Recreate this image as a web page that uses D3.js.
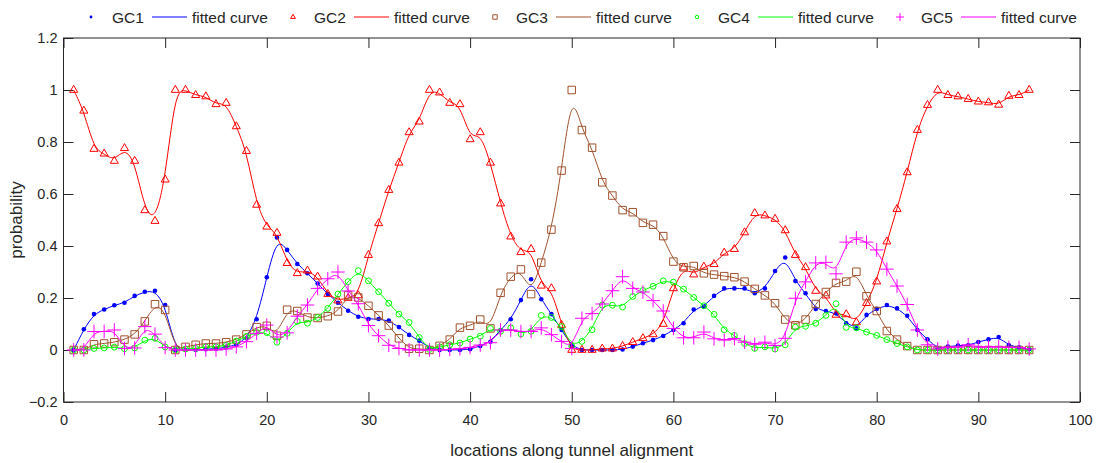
<!DOCTYPE html>
<html>
<head>
<meta charset="utf-8">
<script src="https://cdn.jsdelivr.net/npm/d3@7"></script>
<style>
  body { margin: 0; background: #fff; }
  text { font-family: "Liberation Sans", Arial, sans-serif; fill: #262626; }
</style>
</head>
<body>
<svg id="chart" width="1097" height="463"></svg>
<script>
// locations 1..95 along the tunnel
const locations = d3.range(1, 96);

const gc1 = [0.0, 0.08, 0.138, 0.156, 0.172, 0.182, 0.208, 0.224, 0.228, 0.173,
  0.0, 0.0, 0.0, 0.003, 0.005, 0.01, 0.02, 0.045, 0.118, 0.28,
  0.433, 0.385, 0.331, 0.295, 0.256, 0.215, 0.182, 0.151, 0.128, 0.119,
  0.119, 0.113, 0.088, 0.058, 0.036, 0.008, 0.0, 0.0, 0.0, 0.003,
  0.015, 0.032, 0.077, 0.118, 0.192, 0.272, 0.195, 0.138, 0.077, 0.015,
  0.0, 0.0, 0.0, 0.0, 0.002, 0.013, 0.026, 0.038, 0.054, 0.077,
  0.103, 0.156, 0.167, 0.208, 0.237, 0.237, 0.237, 0.218, 0.237, 0.304,
  0.356, 0.265, 0.218, 0.158, 0.15, 0.141, 0.103, 0.083, 0.135, 0.158,
  0.173, 0.16, 0.132, 0.077, 0.041, 0.005, 0.013, 0.017, 0.018, 0.031,
  0.041, 0.05, 0.018, 0.01, 0.003];

const gc2 = [1.0, 0.92, 0.773, 0.755, 0.727, 0.776, 0.727, 0.537, 0.496, 0.655,
  1.0, 1.0, 0.98, 0.975, 0.945, 0.95, 0.86, 0.765, 0.558, 0.474,
  0.45, 0.334, 0.295, 0.305, 0.282, 0.215, 0.19, 0.2, 0.21, 0.365,
  0.487, 0.615, 0.72, 0.837, 0.878, 1.0, 0.99, 0.95, 0.945, 0.81,
  0.837, 0.72, 0.563, 0.436, 0.376, 0.388, 0.247, 0.237, 0.096, 0.0,
  0.0, 0.0, 0.005, 0.005, 0.015, 0.03, 0.045, 0.06, 0.1, 0.237,
  0.317, 0.29, 0.32, 0.33, 0.374, 0.388, 0.452, 0.526, 0.517, 0.504,
  0.46, 0.365, 0.318, 0.227, 0.209, 0.135, 0.137, 0.106, 0.18, 0.263,
  0.417, 0.542, 0.683, 0.846, 0.942, 1.0, 0.98, 0.975, 0.965, 0.955,
  0.952, 0.943, 0.977, 0.98, 1.0];

const gc3 = [0.0, 0.0, 0.022, 0.025, 0.03, 0.04, 0.06, 0.11, 0.176, 0.154,
  0.0, 0.012, 0.02, 0.025, 0.025, 0.03, 0.04, 0.06, 0.088, 0.093,
  0.055, 0.155, 0.15, 0.125, 0.123, 0.13, 0.148, 0.21, 0.202, 0.17,
  0.133, 0.094, 0.045, 0.005, 0.005, 0.0, 0.016, 0.04, 0.086, 0.093,
  0.117, 0.083, 0.22, 0.282, 0.31, 0.215, 0.336, 0.463, 0.69, 1.0,
  0.846, 0.778, 0.645, 0.594, 0.538, 0.53, 0.489, 0.482, 0.438, 0.34,
  0.318, 0.323, 0.295, 0.29, 0.284, 0.28, 0.263, 0.235, 0.21, 0.18,
  0.117, 0.095, 0.117, 0.177, 0.223, 0.258, 0.263, 0.301, 0.207, 0.15,
  0.073, 0.04, 0.015, 0.0, 0.0, 0.0, 0.0, 0.0, 0.0, 0.0,
  0.0, 0.0, 0.0, 0.0, 0.0];

const gc4 = [0.0, 0.0, 0.006, 0.008, 0.011, 0.005, 0.008, 0.038, 0.045, 0.012,
  0.0, 0.004, 0.006, 0.012, 0.012, 0.018, 0.034, 0.052, 0.068, 0.067,
  0.03, 0.064, 0.11, 0.103, 0.125, 0.16, 0.215, 0.263, 0.305, 0.266,
  0.224, 0.18, 0.138, 0.106, 0.048, 0.002, 0.012, 0.02, 0.027, 0.042,
  0.053, 0.083, 0.072, 0.085, 0.062, 0.072, 0.133, 0.125, 0.09, 0.015,
  0.033, 0.078, 0.173, 0.172, 0.165, 0.206, 0.229, 0.245, 0.266, 0.261,
  0.234, 0.202, 0.17, 0.137, 0.078, 0.056, 0.025, 0.006, 0.012, 0.004,
  0.02, 0.088, 0.091, 0.103, 0.133, 0.178, 0.087, 0.085, 0.069, 0.056,
  0.04, 0.025, 0.012, 0.0, 0.0, 0.0, 0.0, 0.0, 0.0, 0.0,
  0.0, 0.0, 0.0, 0.0, 0.0];

const gc5 = [0.0, 0.0, 0.071, 0.071, 0.077, 0.006, 0.008, 0.09, 0.061, 0.009,
  0.0, 0.0, 0.0, 0.0, 0.0, 0.004, 0.012, 0.032, 0.064, 0.096,
  0.05, 0.066, 0.13, 0.173, 0.237, 0.274, 0.3, 0.227, 0.178, 0.094,
  0.055, 0.018, 0.006, 0.0, 0.0, 0.0, 0.0, 0.002, 0.005, 0.01,
  0.019, 0.028, 0.077, 0.077, 0.071, 0.071, 0.085, 0.059, 0.033, 0.006,
  0.122, 0.14, 0.177, 0.228, 0.282, 0.237, 0.223, 0.19, 0.15, 0.083,
  0.047, 0.047, 0.069, 0.043, 0.038, 0.044, 0.03, 0.022, 0.03, 0.017,
  0.045, 0.199, 0.262, 0.335, 0.337, 0.293, 0.415, 0.431, 0.415, 0.385,
  0.311, 0.246, 0.175, 0.077, 0.02, 0.004, 0.011, 0.011, 0.02, 0.011,
  0.012, 0.012, 0.01, 0.01, 0.004];

const xTicks = [0, 10, 20, 30, 40, 50, 60, 70, 80, 90, 100];
const yTicks = [-0.2, 0, 0.2, 0.4, 0.6, 0.8, 1, 1.2];

const series = [
  { name: 'GC1', values: gc1, color: '#0000ff', marker: 'dot' },
  { name: 'GC2', values: gc2, color: '#ff0000', marker: 'triangle' },
  { name: 'GC3', values: gc3, color: '#a0522d', marker: 'square' },
  { name: 'GC4', values: gc4, color: '#00ff00', marker: 'circle' },
  { name: 'GC5', values: gc5, color: '#ff00ff', marker: 'plus' }
];

const svg = d3.select('#chart');
const plotLeft = 63.5, plotRight = 1080, plotTop = 38, plotBottom = 402;

const x = d3.scaleLinear().domain([0, 100]).range([plotLeft, plotRight]);
const y = d3.scaleLinear().domain([-0.2, 1.2]).range([plotBottom, plotTop]);

const axisColor = '#262626';

// axes with inward ticks, matlab style
const gx = svg.append('g')
  .attr('transform', `translate(0,${plotBottom})`)
  .call(d3.axisBottom(x).tickValues(xTicks).tickSize(-10).tickSizeOuter(0).tickPadding(13)
    .tickFormat(d3.format('d')));
const gxTop = svg.append('g')
  .attr('transform', `translate(0,${plotTop})`)
  .call(d3.axisTop(x).tickValues(xTicks).tickSize(-10).tickSizeOuter(0).tickFormat(''));
const gy = svg.append('g')
  .attr('transform', `translate(${plotLeft},0)`)
  .call(d3.axisLeft(y).tickValues(yTicks).tickSize(-10).tickSizeOuter(0).tickPadding(6)
    .tickFormat(d => d === 0 || d === 1 ? String(d) : d3.format('.1f')(d)));
const gyRight = svg.append('g')
  .attr('transform', `translate(${plotRight},0)`)
  .call(d3.axisRight(y).tickValues(yTicks).tickSize(-10).tickSizeOuter(0).tickFormat(''));

[gx, gxTop, gy, gyRight].forEach(g => {
  g.select('.domain').remove();
  g.selectAll('line').attr('stroke', axisColor);
  g.selectAll('text').attr('fill', axisColor)
    .style('font-family', '"Liberation Sans", Arial, sans-serif')
    .style('font-size', '14.5px');
});

// box round the plot
svg.append('rect')
  .attr('x', plotLeft).attr('y', plotTop)
  .attr('width', plotRight - plotLeft).attr('height', plotBottom - plotTop)
  .attr('fill', 'none').attr('stroke', axisColor).attr('stroke-width', 1);

// axis labels
svg.append('text')
  .attr('x', (plotLeft + plotRight) / 2).attr('y', 456)
  .attr('text-anchor', 'middle')
  .style('font-size', '17px')
  .text('locations along tunnel alignment');

svg.append('text')
  .attr('transform', `translate(22,${(plotTop + plotBottom) / 2})rotate(-90)`)
  .attr('text-anchor', 'middle')
  .style('font-size', '17px')
  .text('probability');

const symbolFor = {
  triangle: (s) => d3.symbol(d3.symbolTriangle, 28 * s * s),
  square: (s) => d3.symbol(d3.symbolSquare, 56 * s * s),
  circle: (s) => d3.symbol(d3.symbolCircle, 27 * s * s),
  plus: (s) => d3.symbol(d3.symbolPlus, 62 * s * s)
};

function drawMarker(g, kind, color, scale) {
  if (kind === 'dot') {
    g.append('circle').attr('r', 2.3 * scale).attr('fill', color);
  } else {
    g.append('path')
      .attr('d', symbolFor[kind](scale)())
      .attr('fill', 'none')
      .attr('stroke', color)
      .attr('stroke-width', 1);
  }
}

const plot = svg.append('g');

const line = d3.line()
  .x((d, i) => x(locations[i]))
  .y(d => y(d))
  .curve(d3.curveBasis);

series.forEach(s => {
  const pts = plot.append('g');
  s.values.forEach((v, i) => {
    const g = pts.append('g').attr('transform', `translate(${x(locations[i])},${y(v)})`);
    drawMarker(g, s.marker, s.color, 1);
  });
  plot.append('path')
    .attr('d', line(s.values))
    .attr('fill', 'none')
    .attr('stroke', s.color)
    .attr('stroke-width', 1);
});

// legend across the top
const legendPos = [91, 293, 495, 697, 900];
const legend = svg.append('g').style('font-size', '15.5px');
series.forEach((s, i) => {
  const lx = legendPos[i];
  const item = legend.append('g').attr('transform', `translate(${lx},17)`);
  drawMarker(item.append('g'), s.marker, s.color, 0.6);
  item.append('text').attr('x', 21).attr('y', 5.5).text(s.name);
  item.append('line')
    .attr('x1', 61).attr('x2', 96).attr('y1', 0).attr('y2', 0)
    .attr('stroke', s.color).attr('stroke-width', 1);
  item.append('text').attr('x', 101).attr('y', 5.5).text('fitted curve');
});
</script>
</body>
</html>
